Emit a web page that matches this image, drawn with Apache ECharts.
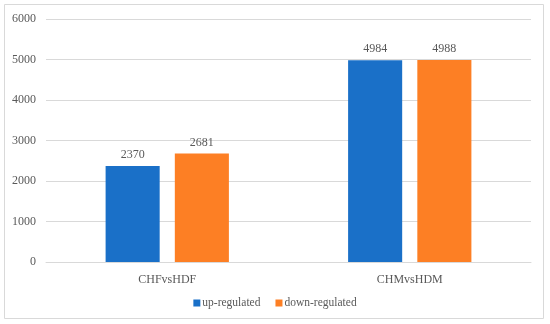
<!DOCTYPE html>
<html><head><meta charset="utf-8">
<script src="https://cdn.jsdelivr.net/npm/echarts@6/dist/echarts.min.js"></script>
<style>html,body{margin:0;padding:0;background:#fff}#c{width:550px;height:324px}</style>
</head><body><div id="c"></div>
<script>
const categories = ['CHFvsHDF', 'CHMvsHDM'];
const upRegulated = [2370, 4984];
const downRegulated = [2681, 4988];
const seriesNames = ['up-regulated', 'down-regulated'];
const yTicks = [0, 1000, 2000, 3000, 4000, 5000, 6000];

const font = '"Liberation Serif", "Times New Roman", serif';
const txt = '#595959';
const chart = echarts.init(document.getElementById('c'), null, {renderer: 'canvas'});
chart.setOption({
  animation: false,
  textStyle: {fontFamily: font},
  graphic: [{type: 'rect', shape: {x: 4.5, y: 4.5, width: 539, height: 314}, style: {fill: 'none', stroke: '#d9d9d9', lineWidth: 1}, silent: true}],
  grid: {left: 46, right: 19, top: 19, bottom: 62, containLabel: false},
  legend: {
    bottom: 10, left: 'center', itemWidth: 7, itemHeight: 7, itemGap: 15,
    icon: 'rect',
    textStyle: {fontFamily: font, fontSize: 11.5, color: txt, padding: [0, 0, 0, -3]},
    data: seriesNames
  },
  xAxis: {
    type: 'category', data: categories,
    axisLine: {lineStyle: {color: '#d9d9d9'}},
    axisTick: {show: false},
    axisLabel: {fontFamily: font, fontSize: 12, color: txt, margin: 12}
  },
  yAxis: {
    type: 'value', min: yTicks[0], max: yTicks[yTicks.length - 1], interval: 1000,
    axisLine: {show: false}, axisTick: {show: false},
    axisLabel: {fontFamily: font, fontSize: 12, color: txt, margin: 10, formatter: v => String(v)},
    splitLine: {lineStyle: {color: '#d9d9d9'}}
  },
  series: [
    {name: seriesNames[0], type: 'bar', data: upRegulated, barWidth: '22.3%', barGap: '28%',
     itemStyle: {color: '#1a70c8'},
     label: {show: true, position: 'top', fontFamily: font, fontSize: 12, color: txt, distance: 5}},
    {name: seriesNames[1], type: 'bar', data: downRegulated, barWidth: '22.3%', barGap: '28%',
     itemStyle: {color: '#fd7f24'},
     label: {show: true, position: 'top', fontFamily: font, fontSize: 12, color: txt, distance: 5}}
  ]
});
</script></body></html>
